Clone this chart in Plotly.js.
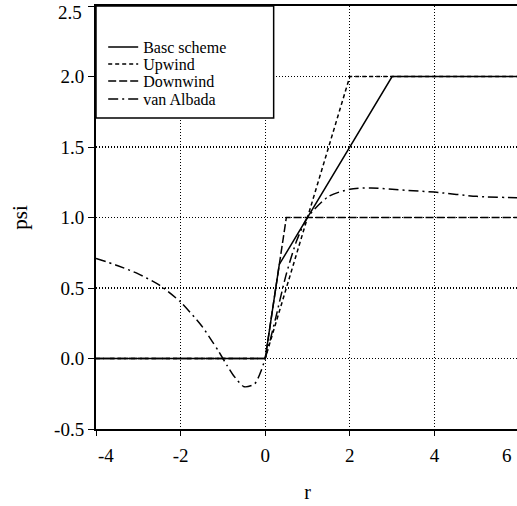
<!DOCTYPE html>
<html>
<head>
<meta charset="utf-8">
<script src="https://cdn.plot.ly/plotly-3.0.1.min.js"></script>
<style>
html,body{margin:0;padding:0;overflow:hidden;background:#fff;}
#chart{width:520px;height:506px;}
</style>
</head>
<body>
<div id="chart"></div>
<script>
// Data
const seriesNames = ["Basc scheme", "Upwind", "Downwind", "van Albada"];

const rBasic   = [-4, 0, 0.333, 3, 6];
const psiBasic = [0, 0, 0.667, 2, 2];

const rUpwind   = [-4, 0, 2, 6];
const psiUpwind = [0, 0, 2, 2];

const rDownwind   = [-4, 0, 0.5, 6];
const psiDownwind = [0, 0, 1, 1];

const rAlbada   = [-4, -3.5, -3, -2.5, -2, -1.5, -1.25, -1.1, -0.9, -0.75, -0.5, -0.25, -0.1, 0, 0.1, 0.25, 0.5, 0.75, 1, 1.5, 2, 2.5, 3, 3.5, 4, 5, 6];
const psiAlbada = [0.71, 0.66, 0.60, 0.52, 0.40, 0.23, 0.12, 0.05, -0.05, -0.12, -0.20, -0.18, -0.09, 0.0, 0.11, 0.29, 0.60, 0.84, 1.0, 1.15, 1.20, 1.21, 1.20, 1.19, 1.18, 1.15, 1.14];

const xTickVals = [-4, -2, 0, 2, 4, 6];
const xTickText = ["-4", "-2", "0", "2", "4", "6"];
const yTickVals = [-0.5, 0.0, 0.5, 1.0, 1.5, 2.0, 2.5];
const yTickText = ["-0.5", "0.0", "0.5", "1.0", "1.5", "2.0", "2.5"];

const FONT = "Liberation Serif, Times New Roman, serif";

// end labels sit inside the frame in the reference, so they are placed as annotations
const xTickShown = xTickText.map((t, i) => (i === 0 || i === xTickText.length - 1) ? "" : t);
const yTickShown = yTickText.map((t, i) => (i === yTickText.length - 1) ? "" : t);

const traces = [
  {x: rUpwind, y: psiUpwind, name: seriesNames[1], mode: "lines", legend: "legend2",
   line: {color: "#000", width: 1.5, dash: "4px,3px"}},
  {x: rDownwind, y: psiDownwind, name: seriesNames[2], mode: "lines", legend: "legend3",
   line: {color: "#000", width: 1.5, dash: "8px,3px"}},
  {x: rAlbada, y: psiAlbada, name: seriesNames[3], mode: "lines", legend: "legend4",
   line: {color: "#000", width: 1.5, dash: "10px,4px,2px,4px", shape: "spline", smoothing: 0.7}},
  {x: rBasic, y: psiBasic, name: seriesNames[0], mode: "lines", legend: "legend",
   line: {color: "#000", width: 1.5}}
];

// plot area: top 6, height 423
function legendAt(py) {
  return {x: 0.017, y: 1 - (py - 6) / 423, xanchor: "left", yanchor: "middle",
          bgcolor: "rgba(0,0,0,0)", borderwidth: 0,
          font: {family: FONT, size: 16, color: "#000"}};
}

const layout = {
  width: 520, height: 506,
  margin: {l: 96, r: 1, t: 6, b: 77},
  paper_bgcolor: "#fff", plot_bgcolor: "#fff",
  font: {family: FONT, color: "#000", size: 19},
  showlegend: true,
  legend: legendAt(47),
  legend2: legendAt(64),
  legend3: legendAt(81),
  legend4: legendAt(99),
  xaxis: {
    range: [-4, 6], tickmode: "array", tickvals: xTickVals, ticktext: xTickShown,
    ticks: "outside", ticklen: 5, tickwidth: 1, tickcolor: "#000",
    ticklabelstandoff: 3,
    showline: true, linecolor: "#000", linewidth: 2, mirror: true,
    showgrid: true, gridcolor: "#000", gridwidth: 1.2, griddash: "1px,2px",
    zeroline: false, tickfont: {family: FONT, size: 19},
    title: {text: "r", font: {family: FONT, size: 20}, standoff: 20},
    automargin: false
  },
  yaxis: {
    range: [-0.5, 2.5], tickmode: "array", tickvals: yTickVals, ticktext: yTickShown,
    ticks: "outside", ticklen: 6, tickwidth: 1, tickcolor: "#000",
    showline: true, linecolor: "#000", linewidth: 2, mirror: true,
    showgrid: true, gridcolor: "#000", gridwidth: 1.2, griddash: "1px,2px",
    zeroline: false, tickfont: {family: FONT, size: 19},
    title: {text: "psi", font: {family: FONT, size: 21}, standoff: 21},
    automargin: false
  },
  annotations: [
    {text: xTickText[0], xref: "x", yref: "paper", x: xTickVals[0], y: 0,
     xanchor: "left", yanchor: "middle", xshift: 0, yshift: -26, showarrow: false,
     font: {family: FONT, size: 19, color: "#000"}},
    {text: xTickText[xTickText.length - 1], xref: "x", yref: "paper", x: xTickVals[xTickVals.length - 1], y: 0,
     xanchor: "right", yanchor: "middle", xshift: -5, yshift: -26, showarrow: false,
     font: {family: FONT, size: 19, color: "#000"}},
    {text: yTickText[yTickText.length - 1], xref: "paper", yref: "y", x: 0, y: yTickVals[yTickVals.length - 1],
     xanchor: "right", yanchor: "middle", xshift: -12, yshift: -6, showarrow: false,
     font: {family: FONT, size: 19, color: "#000"}}
  ],
  shapes: [
    {type: "rect", xref: "paper", yref: "paper", x0: 0, x1: 0.42, y0: 0.735, y1: 1,
     fillcolor: "#fff", line: {color: "#000", width: 1.5}, layer: "above"}
  ]
};

Plotly.newPlot("chart", traces, layout, {staticPlot: true, displayModeBar: false});
</script>
</body>
</html>
